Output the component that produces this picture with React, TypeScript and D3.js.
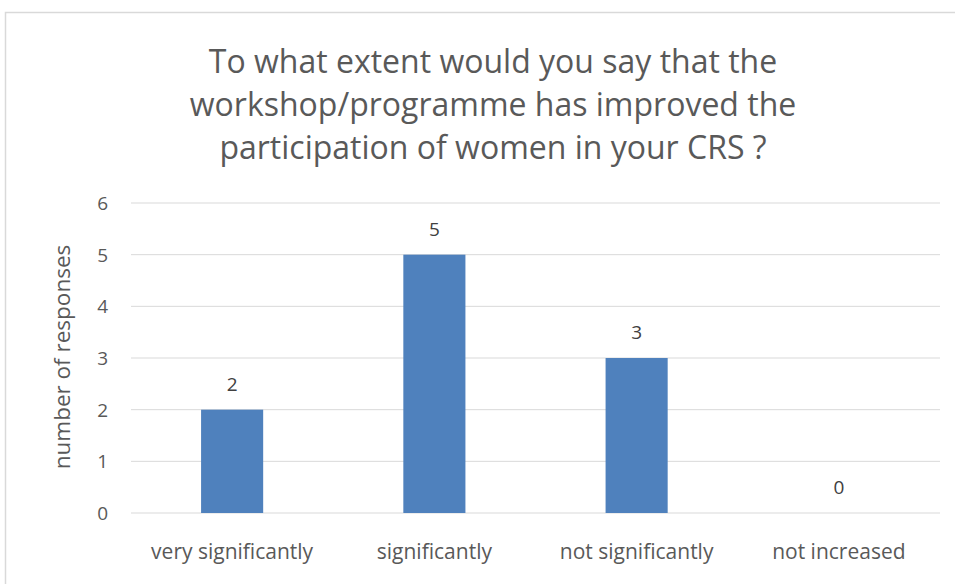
import React from "react";
import * as d3 from "d3";

const categories = ["very significantly", "significantly", "not significantly", "not increased"];
const values = [2, 5, 3, 0];
const yTicks = [0, 1, 2, 3, 4, 5, 6];
const titleLines = [
  "To what extent would you say that the",
  "workshop/programme has improved the",
  "participation of women in your CRS ?",
];
const yAxisTitle = "number of responses";

export default function App() {
  const W = 955, H = 584;
  const left = 131, right = 940, top = 203, bottom = 513;
  const x = d3.scaleBand<string>().domain(categories).range([left, right]).padding(0);
  const barW = x.bandwidth() * 0.307;
  const y = d3.scaleLinear().domain([0, 6]).range([bottom, top]);
  const font = "'Open Sans', sans-serif";
  return (
    <svg width={W} height={H} style={{ position: "absolute", left: 0, top: 0, background: "#fff" }}>
      <rect x={5.5} y={12.5} width={1000} height={700} fill="#fff" stroke="#d9d9d9" strokeWidth={1.5} />
      {titleLines.map((t, i) => (
        <text key={i} x={493} y={73 + i * 43} textAnchor="middle" fontFamily={font} fontSize={32} fill="#595959">{t}</text>
      ))}
      {yTicks.map((v) => (
        <g key={v}>
          <line x1={left} x2={right} y1={y(v)} y2={y(v)} stroke="#d9d9d9" strokeWidth={1} />
          <text x={108} y={y(v)} dy="0.36em" textAnchor="end" fontFamily={font} fontSize={19} fill="#595959">{v}</text>
        </g>
      ))}
      <text transform={`translate(70,${357}) rotate(-90)`} textAnchor="middle" fontFamily={font} fontSize={22.5} fill="#595959">{yAxisTitle}</text>
      {categories.map((c, i) => {
        const cx = (x(c) as number) + x.bandwidth() / 2;
        return (
          <g key={c}>
            <rect x={cx - barW / 2} y={y(values[i])} width={barW} height={bottom - y(values[i])} fill="#4f81bd" />
            <text x={cx} y={y(values[i]) - 19} textAnchor="middle" fontFamily={font} fontSize={19} fill="#404040">{values[i]}</text>
            <text x={cx} y={559} textAnchor="middle" fontFamily={font} fontSize={21} fill="#595959">{c}</text>
          </g>
        );
      })}
    </svg>
  );
}
